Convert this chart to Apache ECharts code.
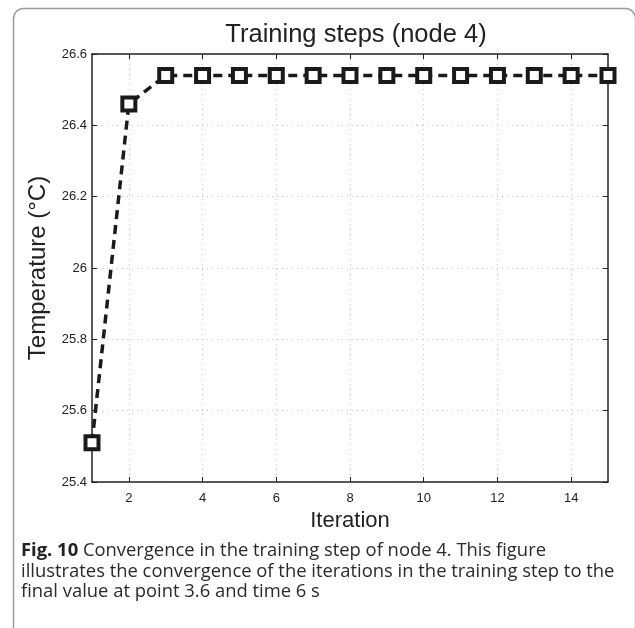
<!DOCTYPE html>
<html>
<head>
<meta charset="utf-8">
<script src="https://cdn.jsdelivr.net/npm/echarts@6/dist/echarts.min.js"></script>
<style>
html,body{margin:0;padding:0;background:#fff;}
#chart{width:635px;height:628px;}
</style>
</head>
<body>
<div id="chart"></div>
<script>
var iterations = [1,2,3,4,5,6,7,8,9,10,11,12,13,14,15];
var temperature = [25.51,26.46,26.54,26.54,26.54,26.54,26.54,26.54,26.54,26.54,26.54,26.54,26.54,26.54,26.54];
var xTicks = [2,4,6,8,10,12,14];
var yTicks = [25.4,25.6,25.8,26,26.2,26.4,26.6];
var titleText = 'Training steps (node 4)';
var xName = 'Iteration';
var yName = 'Temperature (°C)';
var captionBold = 'Fig. 10';
var captionLines = [
  ' Convergence in the training step of node 4. This figure',
  'illustrates the convergence of the iterations in the training step to the',
  'final value at point 3.6 and time 6 s'
];

var chart = echarts.init(document.getElementById('chart'));
var FONT = 'Liberation Sans, Arial, sans-serif';
var CAPFONT = 'Open Sans, sans-serif';

// choose caption font size so the longest line spans ~594px
var cv = document.createElement('canvas').getContext('2d');
cv.font = '100px ' + CAPFONT;
var w100 = cv.measureText(captionLines[1]).width;
var capSize = Math.min(19, Math.max(15, 594 * 100 / w100));

var gridLine = {show:true, lineStyle:{color:'#c8c8c8', type:[1,4], width:1}};

function xAx(pos, showLabel){
  return {
    type:'value', position:pos, min:1, max:15, gridIndex:0,
    name: showLabel ? xName : '', nameLocation:'middle', nameGap:25,
    nameTextStyle:{fontFamily:FONT, fontSize:22, color:'#222'},
    axisLine:{show:true, onZero:false, lineStyle:{color:'#222', width:1.5}},
    axisTick:{show:true, inside:true, length:5, customValues:xTicks, lineStyle:{color:'#222', width:1}},
    axisLabel:{show:showLabel, customValues:xTicks, fontFamily:FONT, fontSize:13, color:'#222', margin:10},
    splitLine: showLabel ? gridLine : {show:false}
  };
}
function yAx(pos, showLabel){
  return {
    type:'value', position:pos, min:25.4, max:26.6, gridIndex:0,
    name: showLabel ? yName : '', nameLocation:'middle', nameGap:34, nameRotate:90,
    nameTextStyle:{fontFamily:FONT, fontSize:24, color:'#222'},
    axisLine:{show:true, onZero:false, lineStyle:{color:'#222', width:1.5}},
    axisTick:{show:true, inside:true, length:5, customValues:yTicks, lineStyle:{color:'#222', width:1}},
    axisLabel:{show:showLabel, customValues:yTicks, fontFamily:FONT, fontSize:13, color:'#222', margin:5},
    splitLine: showLabel ? gridLine : {show:false}
  };
}

var option = {
  backgroundColor:'#fff',
  animation:false,
  title:{
    text:titleText, left:351, textAlign:'center', top:17,
    textStyle:{fontFamily:FONT, fontSize:25.5, fontWeight:'normal', color:'#222'}
  },
  grid:{left:92, right:27, top:54, bottom:146, containLabel:false},
  xAxis:[xAx('bottom', true), xAx('top', false)],
  yAxis:[yAx('left', true), yAx('right', false)],
  series:[{
    type:'line',
    xAxisIndex:0, yAxisIndex:0,
    clip:false,
    data: iterations.map(function(x,i){return [x, temperature[i]];}),
    symbol:'rect', symbolSize:13, showAllSymbol:true,
    itemStyle:{color:'#fff', borderColor:'#1a1a1a', borderWidth:4},
    lineStyle:{color:'#1a1a1a', width:3.5, type:[9,6]},
    z:5
  }],
  graphic:[
    {type:'rect', left:11, top:6, shape:{width:622, height:640, r:10},
     style:{fill:'none', stroke:'#9a9a9a', lineWidth:1.5}, silent:true, z:-1},
    {type:'text', left:21, top:542,
     style:{
       text:'{b|' + captionBold + '}{n|' + captionLines[0] + '}\n{n|' + captionLines[1] + '}\n{n|' + captionLines[2] + '}',
       rich:{
         b:{fontFamily:CAPFONT, fontSize:capSize, fontWeight:'bold', fill:'#222', lineHeight:20.5},
         n:{fontFamily:CAPFONT, fontSize:capSize, fill:'#2a2a2a', lineHeight:20.5}
       }
     }}
  ]
};
chart.setOption(option);
</script>
</body>
</html>
